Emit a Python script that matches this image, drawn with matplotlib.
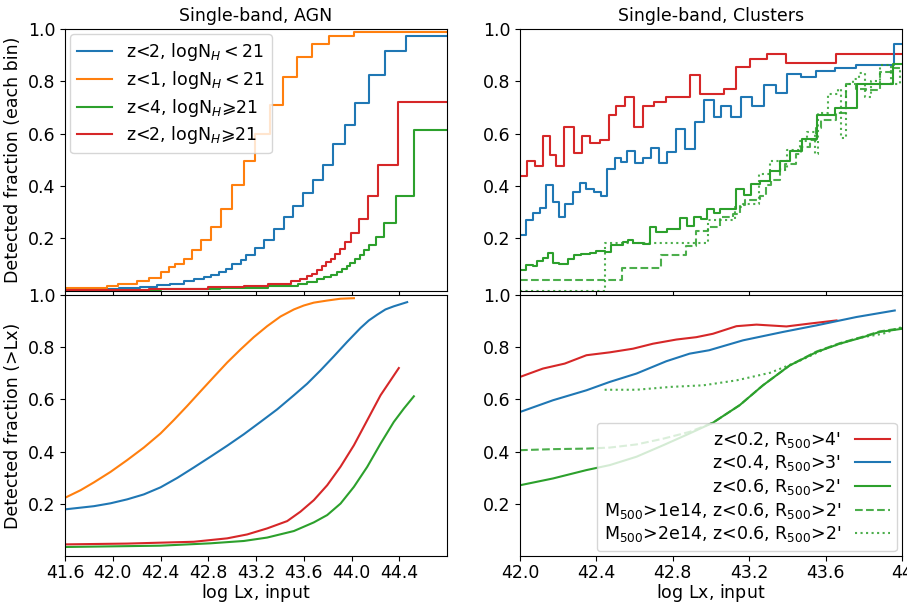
import numpy as np
import matplotlib
matplotlib.use("Agg")
import matplotlib.pyplot as plt

plt.rcParams['font.size'] = 12

# ---- AGN, fraction in each bin (bin left edges, fraction) ----
agn_x_max = 44.8
o_edges = [41.6, 41.95, 42.04, 42.2, 42.3, 42.4, 42.47, 42.525, 42.595, 42.665, 42.735,
           42.82, 42.91, 43.0, 43.1, 43.195, 43.32, 43.43, 43.54, 43.67, 43.815, 44.02]
o_frac = [0.01, 0.018, 0.027, 0.036, 0.05, 0.071, 0.09, 0.10, 0.122, 0.157, 0.195,
          0.243, 0.312, 0.404, 0.496, 0.60, 0.709, 0.815, 0.894, 0.942, 0.973, 0.989]
b_edges = [41.6, 41.85, 42.05, 42.23, 42.37, 42.48, 42.595, 42.68, 42.76, 42.82, 42.89,
           42.945, 43.0, 43.07, 43.112, 43.195, 43.27, 43.349, 43.433, 43.511, 43.595,
           43.679, 43.763, 43.846, 43.949, 44.033, 44.144, 44.278, 44.46]
b_frac = [0.005, 0.008, 0.01, 0.015, 0.02, 0.027, 0.036, 0.043, 0.052, 0.061, 0.071,
          0.084, 0.10, 0.116, 0.138, 0.163, 0.192, 0.235, 0.282, 0.324, 0.373,
          0.422, 0.479, 0.56, 0.632, 0.718, 0.823, 0.915, 0.973]
r_edges = [41.6, 42.3, 42.8, 43.1, 43.3, 43.489, 43.572, 43.63, 43.67, 43.712, 43.754,
           43.79, 43.824, 43.865, 43.90, 43.949, 43.997, 44.06, 44.14, 44.223, 44.387]
r_frac = [0.004, 0.007, 0.012, 0.018, 0.025, 0.035, 0.046, 0.055, 0.065, 0.08, 0.094,
          0.108, 0.122, 0.14, 0.158, 0.186, 0.222, 0.272, 0.361, 0.482, 0.72]
g_edges = [41.6, 42.4, 42.9, 43.3, 43.55, 43.629, 43.712, 43.768, 43.824, 43.88, 43.922,
           43.958, 43.991, 44.033, 44.069, 44.103, 44.144, 44.209, 44.276, 44.374, 44.521]
g_frac = [0.004, 0.007, 0.011, 0.016, 0.024, 0.033, 0.043, 0.052, 0.061, 0.071, 0.084,
          0.095, 0.107, 0.12, 0.135, 0.155, 0.173, 0.205, 0.259, 0.361, 0.613]

# ---- AGN, cumulative fraction (>Lx) ----
o_lx = [41.604, 41.73, 41.842, 41.981, 42.12, 42.26, 42.4, 42.511, 42.623, 42.735, 42.846,
        42.958, 43.07, 43.181, 43.293, 43.405, 43.517, 43.6, 43.684, 43.796, 43.908, 44.02]
o_cum = [0.225, 0.253, 0.283, 0.323, 0.368, 0.416, 0.47, 0.521, 0.575, 0.631, 0.686,
         0.741, 0.791, 0.838, 0.88, 0.917, 0.944, 0.959, 0.97, 0.978, 0.985, 0.987]
b_lx = [41.604, 41.842, 41.981, 42.12, 42.26, 42.4, 42.54, 42.679, 42.818, 42.958, 43.098,
        43.237, 43.377, 43.517, 43.628, 43.74, 43.852, 43.963, 44.075, 44.145, 44.215,
        44.284, 44.354, 44.466]
b_cum = [0.18, 0.192, 0.203, 0.218, 0.237, 0.264, 0.3, 0.34, 0.381, 0.423, 0.467,
         0.514, 0.562, 0.616, 0.66, 0.711, 0.765, 0.82, 0.873, 0.902, 0.924,
         0.944, 0.956, 0.972]
r_lx = [41.604, 42.12, 42.679, 42.958, 43.126, 43.293, 43.461, 43.572, 43.684, 43.796,
        43.908, 44.02, 44.131, 44.243, 44.396]
r_cum = [0.046, 0.049, 0.056, 0.069, 0.084, 0.107, 0.135, 0.171, 0.215, 0.272,
         0.343, 0.425, 0.52, 0.616, 0.72]
g_lx = [41.604, 42.4, 42.818, 43.098, 43.293, 43.517, 43.684, 43.796, 43.908, 44.02,
        44.131, 44.243, 44.354, 44.438, 44.522]
g_cum = [0.036, 0.041, 0.05, 0.059, 0.072, 0.097, 0.13, 0.158, 0.202, 0.266,
         0.342, 0.431, 0.514, 0.565, 0.612]

# ---- Clusters, fraction in each bin ----
cl_x_max = 44.0
cr_edges = [42.0, 42.039, 42.08, 42.12, 42.155, 42.19, 42.23, 42.283, 42.327, 42.365, 42.417,
            42.464, 42.505, 42.548, 42.597, 42.644, 42.70, 42.766, 42.888, 42.944, 43.066,
            43.133, 43.203, 43.295, 43.391, 43.657]
cr_frac = [0.437, 0.494, 0.477, 0.591, 0.517, 0.477, 0.625, 0.527, 0.591, 0.566, 0.575,
           0.673, 0.706, 0.739, 0.627, 0.706, 0.721, 0.739, 0.824, 0.753, 0.772,
           0.853, 0.887, 0.903, 0.869, 0.905]
cb_edges = [42.0, 42.033, 42.068, 42.103, 42.138, 42.173, 42.203, 42.238, 42.277, 42.316,
            42.348, 42.386, 42.423, 42.457, 42.496, 42.527, 42.562, 42.6, 42.644, 42.688,
            42.726, 42.772, 42.815, 42.866, 42.915, 42.963, 43.014, 43.054, 43.107, 43.159,
            43.215, 43.278, 43.342, 43.398, 43.473, 43.552, 43.648, 43.758, 43.958]
cb_frac = [0.214, 0.269, 0.297, 0.317, 0.403, 0.339, 0.281, 0.332, 0.377, 0.411,
           0.39, 0.377, 0.36, 0.464, 0.505, 0.492, 0.533, 0.486, 0.505, 0.547,
           0.486, 0.528, 0.619, 0.541, 0.643, 0.727, 0.664, 0.705, 0.664, 0.741,
           0.705, 0.785, 0.756, 0.827, 0.815, 0.84, 0.849, 0.864, 0.942]
cg_edges = [42.0, 42.033, 42.068, 42.091, 42.12, 42.147, 42.173, 42.203, 42.251, 42.283,
            42.321, 42.365, 42.4, 42.443, 42.478, 42.539, 42.565, 42.592, 42.644, 42.679,
            42.714, 42.772, 42.84, 42.876, 42.911, 42.946, 42.979, 43.014, 43.049, 43.129,
            43.171, 43.211, 43.259, 43.311, 43.36, 43.416, 43.476, 43.555, 43.648, 43.764,
            43.953]
cg_frac = [0.08, 0.099, 0.094, 0.112, 0.125, 0.144, 0.107, 0.1, 0.122, 0.135,
           0.141, 0.145, 0.151, 0.148, 0.176, 0.186, 0.192, 0.182, 0.179, 0.243,
           0.224, 0.234, 0.277, 0.246, 0.28, 0.274, 0.313, 0.295, 0.313, 0.39,
           0.365, 0.406, 0.419, 0.457, 0.494, 0.533, 0.581, 0.673, 0.698, 0.791,
           0.868]
cd_edges = [42.0, 42.534, 42.74, 42.871, 42.923, 42.984, 43.046, 43.115, 43.15, 43.176,
            43.255, 43.29, 43.316, 43.36, 43.386, 43.447, 43.473, 43.517, 43.552, 43.578,
            43.657, 43.709, 43.761, 43.814, 43.883, 43.944]
cd_frac = [0.042, 0.086, 0.138, 0.172, 0.226, 0.243, 0.281, 0.294, 0.326, 0.345,
           0.36, 0.402, 0.422, 0.466, 0.485, 0.524, 0.55, 0.574, 0.62, 0.651,
           0.677, 0.79, 0.77, 0.766, 0.836, 0.85]
ct_edges = [42.0, 42.447, 42.984, 43.124, 43.168, 43.251, 43.307, 43.36, 43.398, 43.464,
            43.5, 43.543, 43.56, 43.613, 43.665, 43.683, 43.709, 43.743, 43.775, 43.805,
            43.84, 43.883, 43.944, 43.988]
ct_frac = [0.0, 0.182, 0.269, 0.32, 0.33, 0.445, 0.494, 0.46, 0.536, 0.57,
           0.607, 0.524, 0.677, 0.753, 0.77, 0.585, 0.791, 0.81, 0.83, 0.74,
           0.8, 0.862, 0.79, 0.84]

# ---- Clusters, cumulative fraction (>Lx) ----
cr_lx = [42.0, 42.12, 42.234, 42.348, 42.47, 42.592, 42.696, 42.819, 42.923, 43.01,
         43.133, 43.238, 43.395, 43.517, 43.657]
cr_cum = [0.686, 0.718, 0.737, 0.769, 0.78, 0.794, 0.813, 0.829, 0.838, 0.851,
          0.88, 0.886, 0.879, 0.89, 0.902]
cb_lx = [42.0, 42.173, 42.348, 42.47, 42.61, 42.766, 42.888, 42.99, 43.168, 43.377,
         43.552, 43.761, 43.962]
cb_cum = [0.552, 0.597, 0.635, 0.667, 0.699, 0.746, 0.775, 0.788, 0.826, 0.858,
          0.883, 0.915, 0.94]
cg_lx = [42.0, 42.173, 42.348, 42.47, 42.61, 42.75, 42.888, 43.01, 43.15, 43.272,
         43.412, 43.552, 43.674, 43.796, 43.883, 44.0]
cg_cum = [0.272, 0.298, 0.33, 0.349, 0.381, 0.425, 0.47, 0.511, 0.578, 0.654,
          0.73, 0.781, 0.813, 0.838, 0.858, 0.87]
cd_lx = [42.0, 42.173, 42.348, 42.47, 42.61, 42.75, 42.888, 43.01, 43.15, 43.272,
         43.412, 43.552, 43.674, 43.796, 43.883, 44.0]
cd_cum = [0.406, 0.41, 0.412, 0.416, 0.428, 0.45, 0.476, 0.511, 0.578, 0.654,
          0.73, 0.783, 0.815, 0.84, 0.86, 0.873]
ct_lx = [42.443, 42.61, 42.79, 42.96, 43.134, 43.31, 43.45, 43.6, 43.73, 43.796, 43.9, 44.0]
ct_cum = [0.637, 0.637, 0.648, 0.654, 0.673, 0.702, 0.743, 0.794, 0.826, 0.838, 0.851, 0.877]

agn_labels = [r"z<2, logN$_H<21$", r"z<1, logN$_H<21$",
              r"z<4, logN$_H$⩾21", r"z<2, logN$_H$⩾21"]
cl_labels = [r"z<0.2, R$_{500}$>4'", r"z<0.4, R$_{500}$>3'", r"z<0.6, R$_{500}$>2'",
             r"M$_{500}$>1e14, z<0.6, R$_{500}$>2'", r"M$_{500}$>2e14, z<0.6, R$_{500}$>2'"]


def stairs(ax, edges, frac, xmax, **kw):
    x = np.append(edges, xmax)
    y = np.append(frac, frac[-1])
    ax.step(x, y, where='post', **kw)


fig, axes = plt.subplots(2, 2, figsize=(9.07, 6.04), dpi=100)
fig.subplots_adjust(left=0.0717, right=0.9945, top=0.952, bottom=0.0788,
                    wspace=0.191, hspace=0.016)
ax1, ax2 = axes[0]
ax3, ax4 = axes[1]

stairs(ax1, b_edges, b_frac, agn_x_max, color='C0', label=agn_labels[0])
stairs(ax1, o_edges, o_frac, agn_x_max, color='C1', label=agn_labels[1])
stairs(ax1, g_edges, g_frac, agn_x_max, color='C2', label=agn_labels[2])
stairs(ax1, r_edges, r_frac, agn_x_max, color='C3', label=agn_labels[3])
ax1.legend(loc='upper left', fontsize=12.5, borderaxespad=0.3, labelspacing=0.33)
ax1.set_title("Single-band, AGN", fontsize=12.5)
ax1.set_ylabel("Detected fraction (each bin)", fontsize=12.5)

ax3.plot(b_lx, b_cum, color='C0')
ax3.plot(o_lx, o_cum, color='C1')
ax3.plot(g_lx, g_cum, color='C2')
ax3.plot(r_lx, r_cum, color='C3')
ax3.set_ylabel("Detected fraction (>Lx)", fontsize=12.5)

stairs(ax2, cr_edges, cr_frac, cl_x_max, color='C3')
stairs(ax2, cb_edges, cb_frac, cl_x_max, color='C0')
stairs(ax2, cg_edges, cg_frac, cl_x_max, color='C2')
stairs(ax2, cd_edges, cd_frac, cl_x_max, color='C2', ls='--', alpha=0.85)
stairs(ax2, ct_edges, ct_frac, cl_x_max, color='C2', ls=':', alpha=0.85)
ax2.set_title("Single-band, Clusters", fontsize=12.5)

ax4.plot(cr_lx, cr_cum, color='C3', label=cl_labels[0])
ax4.plot(cb_lx, cb_cum, color='C0', label=cl_labels[1])
ax4.plot(cg_lx, cg_cum, color='C2', label=cl_labels[2])
ax4.plot(cd_lx, cd_cum, color='C2', ls='--', alpha=0.85, label=cl_labels[3])
ax4.plot(ct_lx, ct_cum, color='C2', ls=':', alpha=0.85, label=cl_labels[4])
ax4.legend(loc='lower right', markerfirst=False, fontsize=12.5, borderaxespad=0.3,
           labelspacing=0.21)

agn_ticks = [41.6, 42.0, 42.4, 42.8, 43.2, 43.6, 44.0, 44.4]
cl_ticks = [42.0, 42.4, 42.8, 43.2, 43.6, 44.0]
cl_ticklabels = ["42.0", "42.4", "42.8", "43.2", "43.6", "44"]
y_ticks = [0.2, 0.4, 0.6, 0.8, 1.0]

for ax in (ax1, ax3):
    ax.set_xlim(41.6, agn_x_max)
    ax.set_xticks(agn_ticks)
for ax in (ax2, ax4):
    ax.set_xlim(42.0, cl_x_max)
    ax.set_xticks(cl_ticks)
for ax in axes.flat:
    ax.set_ylim(0, 1.0)
    ax.set_yticks(y_ticks)
    ax.tick_params(labelsize=12.5)
    ax.tick_params(axis='x', pad=2)
ax1.tick_params(labelbottom=False)
ax2.tick_params(labelbottom=False)
ax4.set_xticklabels(cl_ticklabels)
ax3.set_xlabel(r"$\log\,$Lx, input", fontsize=12.5, labelpad=0)
ax4.set_xlabel(r"$\log\,$Lx, input", fontsize=12.5, labelpad=0)

plt.savefig("out.png")
